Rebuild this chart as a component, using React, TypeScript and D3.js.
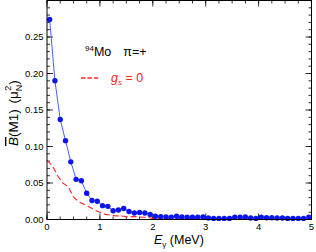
import React from 'react';
import * as d3 from 'd3';

// E_gamma (MeV) for the full calculation, 0.1 MeV bins
const energies = d3.range(50).map(i => 0.05 + i * 0.1);
const bFull = [
  0.274, 0.190, 0.137, 0.108, 0.079, 0.055, 0.053, 0.036, 0.026, 0.025,
  0.019, 0.018, 0.012, 0.013, 0.015, 0.011, 0.009, 0.0095, 0.009, 0.007,
  0.0045, 0.004, 0.0035, 0.003, 0.0045, 0.0035, 0.003, 0.003, 0.003, 0.0035,
  0.002, 0.0015, 0.0015, 0.0015, 0.0015, 0.003, 0.003, 0.0035, 0.002, 0.0015,
  0.003, 0.0025, 0.0025, 0.002, 0.002, 0.0015, 0.0015, 0.0015, 0.0015, 0.003,
];

// g_s = 0 curve
const energiesGs0 = [0, 0.1, 0.2, 0.3, 0.4, 0.5, 0.6, 0.7, 0.8, 0.9, 1.0, 1.1, 1.2, 1.3, 1.4, 1.5, 1.6, 1.7, 1.8, 1.9, 2.0, 2.5, 3.0, 3.5, 4.0, 4.5, 5.0];
const bGs0 = [0.081, 0.074, 0.060, 0.050, 0.045, 0.031, 0.024, 0.021, 0.017, 0.013, 0.010, 0.007, 0.006, 0.005, 0.005, 0.004, 0.004, 0.004, 0.003, 0.003, 0.0015, 0.001, 0.001, 0.001, 0.001, 0.001, 0.001];

const xTicks = [0, 1, 2, 3, 4, 5];
const yTicks = [0, 0.05, 0.1, 0.15, 0.2, 0.25];

const W = 316;
const H = 252;
const left = 47;
const right = 311.5;
const top = 0.5;
const bottom = 219.5;
const font = 'Liberation Sans, Arial, Helvetica, sans-serif';
const red = '#ff2626';

const App: React.FC = () => {
  const x = d3.scaleLinear().domain([0, 5]).range([left, right]);
  const y = d3.scaleLinear().domain([0, 0.3]).range([bottom, top]);

  const xMinor = d3.range(0, 5.001, 0.25);
  const yMinor = d3.range(0, 0.3001, 0.01);

  const fullLine = d3.line<number>().x((_, i) => x(energies[i])).y(d => y(d));
  const gsLine = d3.line<number>().x((_, i) => x(energiesGs0[i])).y(d => y(d));

  return (
    <div style={{ position: 'fixed', left: 0, top: 0 }}>
      <svg width={W} height={H} viewBox={`0 0 ${W} ${H}`} style={{ display: 'block', background: 'white' }} fontFamily={font}>
        {/* ticks */}
        <g stroke="black" strokeWidth={0.8}>
          {xMinor.map((t, i) => (
            <g key={`xm-${i}`}>
              <line x1={x(t)} x2={x(t)} y1={bottom} y2={bottom - 3} />
              <line x1={x(t)} x2={x(t)} y1={top} y2={top + 3} />
            </g>
          ))}
          {yMinor.map((t, i) => (
            <g key={`ym-${i}`}>
              <line x1={left} x2={left + 3} y1={y(t)} y2={y(t)} />
              <line x1={right} x2={right - 3} y1={y(t)} y2={y(t)} />
            </g>
          ))}
          {xTicks.map(t => (
            <g key={`xM-${t}`}>
              <line x1={x(t)} x2={x(t)} y1={bottom} y2={bottom - 6} />
              <line x1={x(t)} x2={x(t)} y1={top} y2={top + 6} />
            </g>
          ))}
          {yTicks.map(t => (
            <g key={`yM-${t}`}>
              <line x1={left} x2={left + 6} y1={y(t)} y2={y(t)} />
              <line x1={right} x2={right - 6} y1={y(t)} y2={y(t)} />
            </g>
          ))}
        </g>

        {/* g_s = 0 dashed curve */}
        <path d={gsLine(bGs0) || ''} fill="none" stroke={red} strokeWidth={1.1} strokeDasharray="6,3" />

        {/* full calculation */}
        <path d={fullLine(bFull) || ''} fill="none" stroke="#3050ff" strokeWidth={0.9} />
        {bFull.map((d, i) => (
          <circle key={`p-${i}`} cx={x(energies[i])} cy={y(d)} r={2.7} fill="#0a14f0" />
        ))}

        {/* frame */}
        <rect x={left} y={top} width={right - left} height={bottom - top} fill="none" stroke="black" strokeWidth={1} />

        {/* tick labels */}
        <g fontSize={9.5} fill="black">
          {xTicks.map(t => (
            <text key={`xl-${t}`} x={x(t)} y={bottom + 10} textAnchor="middle">{t}</text>
          ))}
          {yTicks.map(t => (
            <text key={`yl-${t}`} x={left - 3.5} y={y(t) + 3.4} textAnchor="end">{t.toFixed(2)}</text>
          ))}
        </g>

        {/* axis titles */}
        <text x={154} y={244} fontSize={12.5} fill="black">
          <tspan fontStyle="italic">E</tspan>
          <tspan fontSize={8} dy={3}>γ</tspan>
          <tspan dy={-3}> (MeV)</tspan>
        </text>
        <text transform="translate(18, 146) rotate(-90)" fontSize={13.5} fill="black">
          <tspan fontStyle="italic" textDecoration="overline">B</tspan>
          <tspan>(M1) </tspan>
          <tspan dx={2}>(μ</tspan>
          <tspan fontSize={9} dy={3.5}>N</tspan>
          <tspan fontSize={9} dy={-10.5} dx={-6}>2</tspan>
          <tspan dy={7} dx={1}>)</tspan>
        </text>

        {/* annotation */}
        <text x={85} y={56} fontSize={12.5} fill="black">
          <tspan fontSize={8} dy={-5}>94</tspan>
          <tspan dy={5}>Mo</tspan>
          <tspan dx={12}>π=+</tspan>
        </text>

        {/* legend */}
        <line x1={81} x2={98} y1={78} y2={78} stroke={red} strokeWidth={1.4} strokeDasharray="4.5,2" />
        <text x={111} y={81.5} fontSize={12.5} fill={red}>
          <tspan fontStyle="italic">g</tspan>
          <tspan fontSize={8} dy={3} fontStyle="italic">s</tspan>
          <tspan dy={-3}> = 0</tspan>
        </text>
      </svg>
    </div>
  );
};

export default App;
